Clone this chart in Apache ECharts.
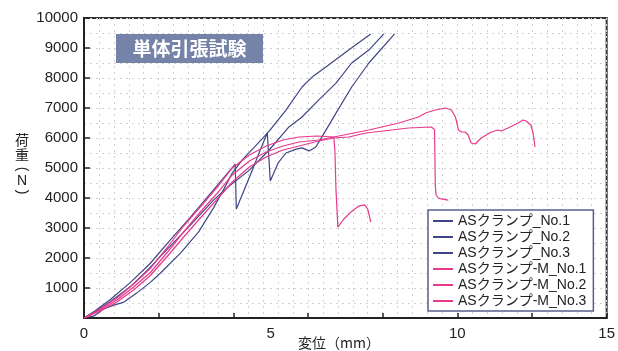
<!DOCTYPE html>
<html><head><meta charset="utf-8">
<script src="https://cdn.jsdelivr.net/npm/echarts@6/dist/echarts.min.js"></script>
<style>html,body{margin:0;padding:0;background:#fff}#c{width:618px;height:351px}</style>
</head><body><div id="c"></div>
<script>
// ---- data (x: 変位 mm, y: 荷重 N) ----
const seriesNames = ['ASクランプ_No.1','ASクランプ_No.2','ASクランプ_No.3','ASクランプ-M_No.1','ASクランプ-M_No.2','ASクランプ-M_No.3'];
const asNo1 = [[0,0],[0.29,230],[0.69,600],[1.23,1170],[1.76,1800],[2.29,2570],[2.83,3330],[3.47,4270],[4.05,5130],[4.08,3630],[4.29,4270],[4.51,4930],[4.72,5600],[4.91,6170],[4.99,4570],[5.20,5170],[5.41,5500],[5.68,5630],[5.84,5670],[6.03,5570],[6.21,5700],[6.37,6030],[6.75,6830],[7.17,7700],[7.63,8500],[8.32,9470]];
const asNo2 = [[0,0],[0.27,70],[0.53,300],[0.80,430],[1.07,530],[1.41,830],[1.76,1170],[2.05,1500],[2.59,2170],[3.07,2870],[3.47,3670],[3.76,4330],[3.97,4830],[4.24,5270],[4.59,5730],[4.96,6230],[5.41,6930],[5.84,7700],[6.11,8030],[6.48,8370],[7.09,8930],[7.68,9470]];
const asNo3 = [[0,0],[0.29,200],[0.69,530],[1.23,1030],[1.76,1670],[2.29,2370],[2.83,3070],[3.47,3930],[3.89,4400],[4.43,4930],[4.96,5600],[5.49,6370],[5.84,6700],[6.29,7270],[6.75,7830],[7.17,8500],[7.63,8930],[8.03,9470]];
const asmNo1 = [[0,0],[0.43,300],[0.88,667],[1.33,1133],[1.79,1667],[2.24,2367],[2.67,3067],[3.09,3667],[3.55,4333],[3.97,5000],[4.43,5433],[4.88,5733],[5.33,5933],[5.76,6033],[6.24,6067],[6.69,6033],[6.72,5600],[6.75,4270],[6.80,3030],[6.96,3300],[7.15,3530],[7.36,3730],[7.52,3770],[7.60,3630],[7.65,3370],[7.68,3200]];
const asmNo2 = [[0,0],[0.43,233],[0.88,533],[1.33,933],[1.79,1433],[2.24,2067],[2.67,2700],[3.09,3300],[3.55,3933],[3.97,4533],[4.43,5033],[4.88,5367],[5.33,5600],[5.76,5733],[6.29,5900],[6.69,6000],[7.09,6033],[7.55,6167],[8.24,6267],[8.69,6333],[9.31,6367],[9.39,6270],[9.41,4430],[9.43,4100],[9.49,4000],[9.57,3970],[9.76,3930]];
const asmNo3 = [[0,0],[0.43,267],[0.88,600],[1.33,1033],[1.79,1533],[2.24,2200],[2.67,2867],[3.09,3500],[3.55,4133],[3.97,4767],[4.43,5233],[4.88,5533],[5.33,5733],[5.76,5867],[6.29,5933],[6.69,6033],[7.09,6133],[7.63,6267],[8.43,6500],[8.96,6700],[9.15,6833],[9.41,6933],[9.68,7000],[9.84,6933],[9.95,6700],[10.03,6267],[10.11,6200],[10.21,6200],[10.29,6100],[10.37,5833],[10.48,5800],[10.64,6000],[10.91,6200],[11.09,6267],[11.17,6233],[11.36,6333],[11.63,6500],[11.76,6600],[11.84,6567],[11.97,6433],[12.03,6167],[12.08,5700]];
const xTickLabels = {0:'0', 5:'5', 10:'10', 14:'15'};
const yTickLabels = [1000,2000,3000,4000,5000,6000,7000,8000,9000,10000];
const titleText = '単体引張試験';
const xName = '変位（mm）';

const NAVY = '#3f4685', PINK = '#e8398b';
const colors = [NAVY, NAVY, NAVY, PINK, PINK, PINK];
const datasets = [asNo1, asNo2, asNo3, asmNo1, asmNo2, asmNo3];
const FONT = '"Liberation Sans","Noto Sans CJK JP",sans-serif';
const JFONT = '"Noto Sans CJK JP",sans-serif';

const chart = echarts.init(document.getElementById('c'), null, {renderer:'canvas'});
chart.setOption({
  animation:false,
  backgroundColor:'#fff',
  grid:{left:84, top:18, right:9, bottom:33, show:true, borderColor:'#333', borderWidth:2, backgroundColor:'#fff', containLabel:false},
  xAxis:[
    {type:'value', min:0, max:14, interval:0.4,
     axisLine:{show:true, onZero:false, lineStyle:{color:'#222', width:2}},
     axisTick:{show:false}, axisLabel:{show:false},
     splitLine:{show:true, lineStyle:{color:'#d2d2d2', type:[2,4], width:1}}},
    {type:'value', min:0, max:14, interval:2, position:'bottom',
     axisLine:{show:false}, axisTick:{show:true, inside:true, length:5, lineStyle:{color:'#222', width:1.5}},
     axisLabel:{show:false}, splitLine:{show:false}},
    {type:'value', min:0, max:14, interval:1, position:'bottom',
     axisLine:{show:false}, axisTick:{show:false},
     axisLabel:{show:true, margin:8, color:'#222', fontSize:15, fontFamily:FONT,
       formatter:(v)=> (xTickLabels[v] !== undefined ? xTickLabels[v] : '')},
     splitLine:{show:false}}
  ],
  yAxis:[
    {type:'value', min:0, max:10000, interval:500,
     axisLine:{show:true, onZero:false, lineStyle:{color:'#222', width:2}},
     axisTick:{show:false}, axisLabel:{show:false},
     splitLine:{show:true, lineStyle:{color:'#d2d2d2', type:[2,4], width:1}}},
    {type:'value', min:0, max:10000, interval:1000, position:'left',
     axisLine:{show:false}, axisTick:{show:true, inside:true, length:6, lineStyle:{color:'#222', width:1.5}},
     axisLabel:{show:true, margin:6, color:'#222', fontSize:15, fontFamily:FONT,
       formatter:(v)=> (yTickLabels.indexOf(v) >= 0 ? String(v) : '')},
     splitLine:{show:false}}
  ],
  legend:{
    orient:'vertical', left:428, top:210, data:seriesNames,
    backgroundColor:'#fff', borderColor:'#5a5f8e', borderWidth:1.5, borderRadius:0,
    padding:[4,7,3,5], itemGap:2, itemWidth:20, itemHeight:2, icon:'rect',
    textStyle:{color:'#222', fontSize:14, fontFamily:FONT, lineHeight:14}
  },
  graphic:[
    {type:'rect', id:'tbox', x:116, y:34, shape:{x:0, y:0, width:147, height:29}, style:{fill:'#7683a8'}, z:10},
    {type:'text', id:'ttl', x:189.5, y:49, z:11, style:{text:titleText, fill:'#fff', font:'bold 19px ' + JFONT, align:'center', verticalAlign:'middle'}},
    {type:'text', id:'xnm', x:339, y:343, z:11, style:{text:xName, fill:'#222', font:'14px ' + JFONT, align:'center', verticalAlign:'middle'}},
    {type:'text', id:'y1', x:22, y:140, z:11, style:{text:'荷', fill:'#222', font:'14px ' + JFONT, align:'center', verticalAlign:'middle'}},
    {type:'text', id:'y2', x:22, y:155, z:11, style:{text:'重', fill:'#222', font:'14px ' + JFONT, align:'center', verticalAlign:'middle'}},
    {type:'text', id:'y3', x:22, y:169, rotation:-Math.PI/2, z:11, style:{text:'(', fill:'#222', font:'14px ' + FONT, align:'center', verticalAlign:'middle'}},
    {type:'text', id:'y4', x:22, y:181, z:11, style:{text:'N', fill:'#222', font:'14px ' + FONT, align:'center', verticalAlign:'middle'}},
    {type:'text', id:'y5', x:22, y:192, rotation:-Math.PI/2, z:11, style:{text:')', fill:'#222', font:'14px ' + FONT, align:'center', verticalAlign:'middle'}}
  ],
  series: datasets.map((d,i)=>({
    name:seriesNames[i], type:'line', data:d, xAxisIndex:0, yAxisIndex:0,
    showSymbol:false, symbol:'none', smooth:false,
    lineStyle:{color:colors[i], width:1.2}, itemStyle:{color:colors[i]}, z:3
  }))
});
</script></body></html>
